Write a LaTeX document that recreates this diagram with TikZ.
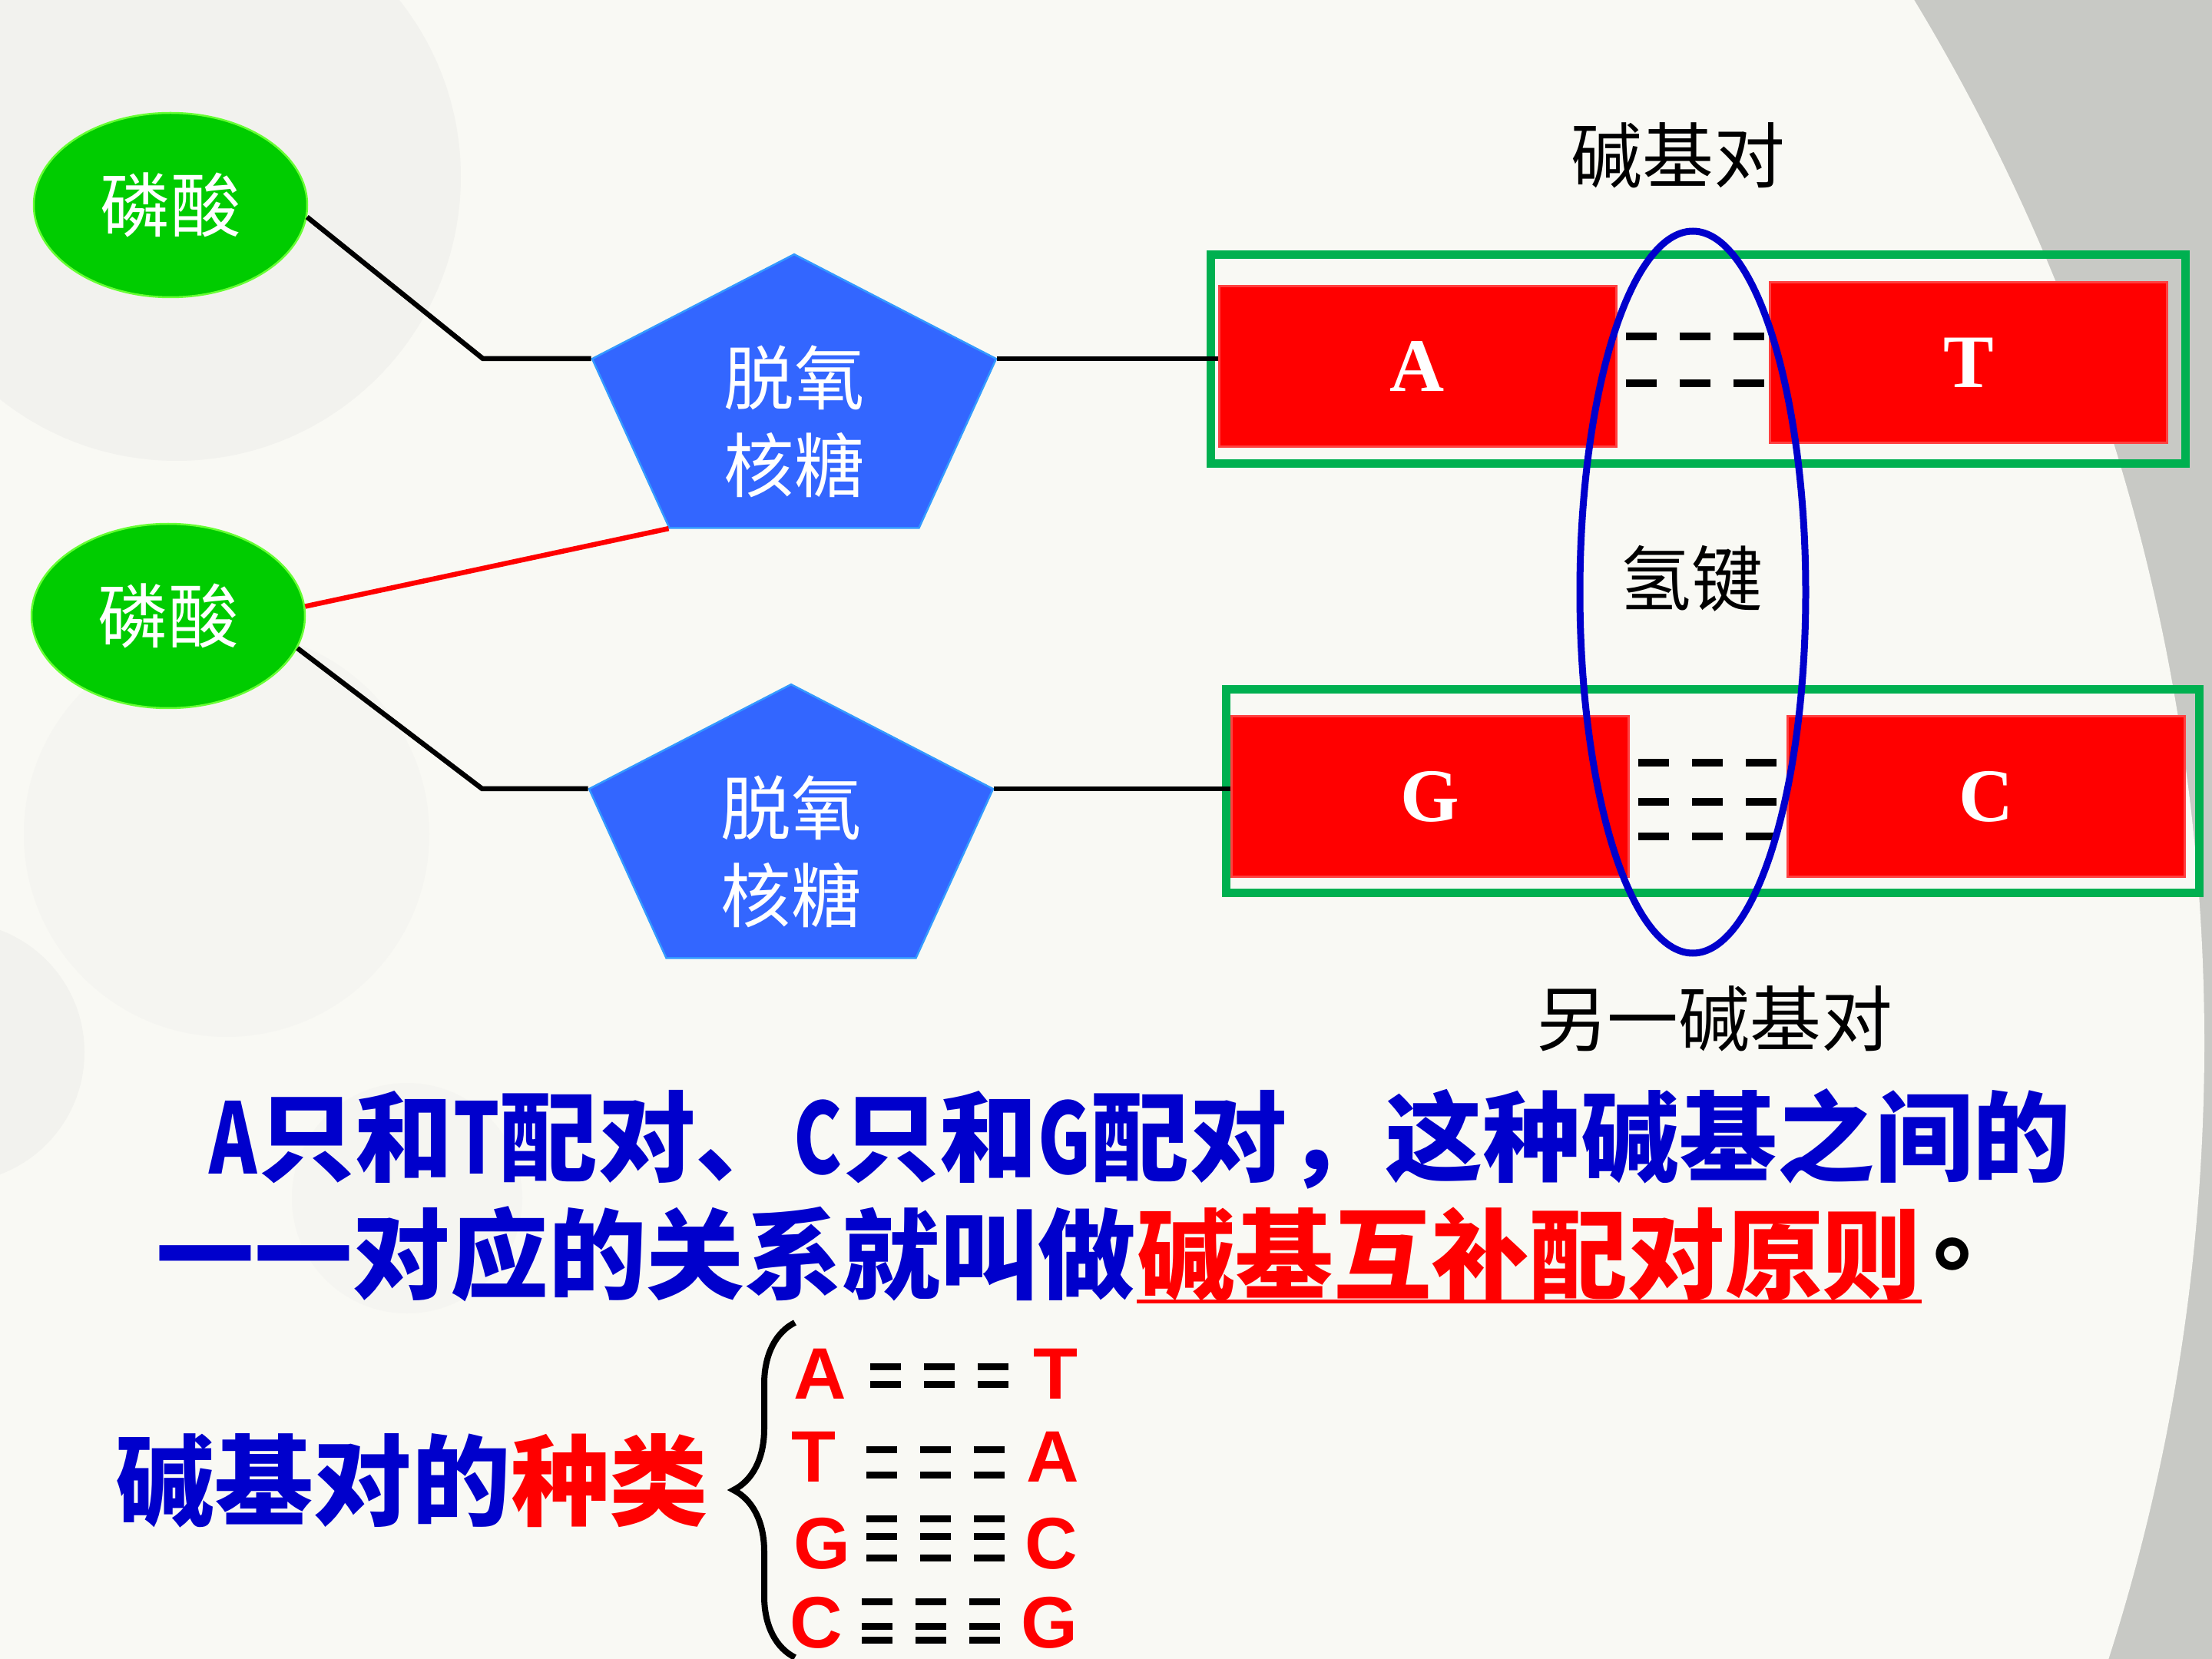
\documentclass[tikz,border=0pt]{standalone}
\usepackage{fontspec}
\usepackage{xcolor}
\usepackage{graphicx}
\usepackage{tikz}
\usetikzlibrary{
  shapes.geometric, positioning, calc, decorations.pathreplacing
}
\setmainfont{Liberation Serif}
\newfontfamily\cjk{Noto Sans CJK SC}
\newfontfamily\arialfont{Liberation Sans}
\newcommand\narrowlat[1]{\scalebox{0.74}[1]{#1}}

\definecolor{bgpaper}{HTML}{F9F9F4}
\definecolor{bggrey}{HTML}{C8C9C5}
\definecolor{bgshade}{HTML}{F2F2EE}
\definecolor{bgsoft}{HTML}{F5F5F1}
\definecolor{acidgreen}{HTML}{00CC00}
\definecolor{acidrim}{HTML}{66FF33}
\definecolor{sugarblue}{HTML}{3366FF}
\definecolor{sugarrim}{HTML}{3399FF}
\definecolor{baserim}{HTML}{FF4040}
\definecolor{pairgreen}{HTML}{00B050}
\definecolor{bondblue}{HTML}{0000CC}
\definecolor{textblue}{HTML}{0000CC}

\tikzset{
  acidnode/.style={
    ellipse, draw=acidrim, line width=0.025cm, fill=acidgreen,
    minimum width=3.56cm, minimum height=2.4cm, inner sep=0pt,
    text=white, font=\cjk\fontsize{26}{30}\selectfont
  },
  sugarnode/.style={
    regular polygon, regular polygon sides=5, draw=sugarrim,
    line width=0.025cm, fill=sugarblue, minimum size=5.53cm, inner sep=0pt
  },
  sugartext/.style={
    text=white, align=center, inner sep=0pt,
    font=\cjk\fontsize{26}{32.4}\selectfont
  },
  basebox/.style={
    rectangle, draw=baserim, line width=0.03cm, fill=red,
    minimum width=5.17cm, minimum height=2.09cm, text=white,
    font=\bfseries\fontsize{28}{30}\selectfont
  },
  pairframe/.style={
    rectangle, draw=pairgreen, line width=0.11cm
  },
  bondline/.style={line width=0.065cm, black},
  hbond/.style={line width=0.1cm, black, dash pattern=on 0.4cm off 0.3cm},
  legenddash/.style={line width=0.09cm, black, dash pattern=on 0.4cm off 0.3cm},
  guidelabel/.style={
    inner sep=0pt, font=\cjk\fontsize{26.4}{30}\selectfont
  },
  maintext/.style={
    inner sep=0pt, text=textblue,
    font=\cjk\bfseries\fontsize{36.3}{40}\selectfont
  },
  kindtext/.style={
    inner sep=0pt, text=textblue,
    font=\cjk\bfseries\fontsize{36.6}{40}\selectfont
  },
  legendletter/.style={
    inner sep=0pt, text=red,
    font=\arialfont\bfseries\fontsize{27}{30}\selectfont
  },
}

\begin{document}
\begin{tikzpicture}
  \useasboundingbox (0,0) rectangle (28.8,-21.6);

  % --- Background ---
  \begin{scope}
    \clip (0,0) rectangle (28.8,-21.6);
    \fill[bggrey] (0,0) rectangle (28.8,-21.6);
    \fill[bgpaper] (2.43,-13.58) circle (26.27);
    \fill[bgshade] (2.3,-2.3) circle (3.7);
    \fill[bgsoft] (2.95,-10.86) circle (2.64);
    \fill[bgshade] (-0.6,-13.7) circle (1.7);
    \fill[bgsoft] (5.3,-15.6) circle (1.5);
  \end{scope}

  % --- Phosphates ---
  \node[acidnode] (acid1) at (2.22,-2.67) {磷酸};
  \node[acidnode] (acid2) at (2.19,-8.02) {磷酸};

  % --- Deoxyriboses ---
  \begin{scope}[shift={(10.34,-5.28)}, yscale=0.712]
    \node[sugarnode, transform shape] (sugar1) at (0,0) {};
  \end{scope}
  \begin{scope}[shift={(10.30,-10.88)}, yscale=0.712]
    \node[sugarnode, transform shape] (sugar2) at (0,0) {};
  \end{scope}
  \node[sugartext] (sugar1txt) at ([yshift=-0.21cm]sugar1.center) {脱氧\\核糖};
  \node[sugartext] (sugar2txt) at ([yshift=-0.21cm]sugar2.center) {脱氧\\核糖};

  % --- Base pairs ---
  \node[pairframe, minimum width=12.69cm, minimum height=2.72cm]
    (frame1) at (22.105,-4.675) {};
  \node[pairframe, minimum width=12.67cm, minimum height=2.64cm]
    (frame2) at (22.295,-10.30) {};
  \node[basebox] (baseA) at (18.455,-4.775) {A};
  \node[basebox] (baseT) at (25.63,-4.725) {T};
  \node[basebox] (baseG) at (18.62,-10.37) {G};
  \node[basebox] (baseC) at (25.86,-10.37) {C};

  % --- Backbone ---
  \draw[bondline] (acid1.-5) -- ($(sugar1.corner 2)+(-1.41,0)$) -- (sugar1.corner 2);
  \draw[bondline, red] (acid2.4) -- (sugar1.corner 3);
  \draw[bondline] (acid2.-14) -- ($(sugar2.corner 2)+(-1.38,0)$) -- (sugar2.corner 2);
  \draw[bondline] (sugar1.corner 5) -- (sugar1.corner 5 -| baseA.west);
  \draw[bondline] (sugar2.corner 5) -- (sugar2.corner 5 -| baseG.west);

  % --- Hydrogen bonds ---
  \draw[hbond] ([shift={(0.11,0.39)}]baseA.east) -- ++(1.8,0);
  \draw[hbond] ([shift={(0.11,-0.215)}]baseA.east) -- ++(1.8,0);
  \draw[hbond] ([shift={(0.11,0.44)}]baseG.east) -- ++(1.8,0);
  \draw[hbond] ([shift={(0.11,-0.07)}]baseG.east) -- ++(1.8,0);
  \draw[hbond] ([shift={(0.11,-0.52)}]baseG.east) -- ++(1.8,0);

  \node[ellipse, draw=bondblue, line width=0.09cm, minimum width=2.94cm,
    minimum height=9.4cm] (bondring) at (22.04,-7.71) {};

  % --- Labels ---
  \node[guidelabel] (pairlbl) at (21.85,-2.02) {碱基对};
  \node[guidelabel] (hbondlbl) at (22.02,-7.53) {氢键};
  \node[guidelabel] (otherlbl) at (22.32,-13.26) {另一碱基对};

  % --- Rule text ---
  \node[maintext, anchor=west] (line1) at (2.72,-14.83)
    {\narrowlat{A}只和\narrowlat{T}配对、\narrowlat{C}只和\narrowlat{G}配对，这种碱基之间的};
  \node[maintext, anchor=west] (line2) at (2.03,-16.33) {一一对应的关系就叫做};
  \node[maintext, anchor=west, text=red] (rule) at (line2.east) {碱基互补配对原则};
  \node[maintext, anchor=west, text=black] (stop) at ([xshift=0.15cm]rule.east) {。};
  \draw[red, line width=0.05cm]
    ([yshift=-0.13cm]rule.base west) -- ([yshift=-0.13cm]rule.base east);

  % --- Pair kinds ---
  \node[kindtext, anchor=west] (kinds) at (1.50,-19.28)
    {碱基对的\textcolor{red}{种类}};
  \draw[line width=0.08cm, decorate, decoration={brace, amplitude=0.8cm}]
    (10.35,-21.58) -- (10.35,-17.22);

  \node[legendletter, anchor=west] (pl1) at (10.33,-17.89) {A};
  \node[legendletter, anchor=east] (pr1) at (14.04,-17.89) {T};
  \node[legendletter, anchor=west] (pl2) at (10.30,-18.97) {T};
  \node[legendletter, anchor=east] (pr2) at (14.06,-18.97) {A};
  \node[legendletter, anchor=west] (pl3) at (10.33,-20.10) {G};
  \node[legendletter, anchor=east] (pr3) at (14.04,-20.10) {C};
  \node[legendletter, anchor=west] (pl4) at (10.28,-21.13) {C};
  \node[legendletter, anchor=east] (pr4) at (14.04,-21.13) {G};

  \draw[legenddash] (11.33,-17.79) -- (13.13,-17.79);
  \draw[legenddash] (11.33,-18.02) -- (13.13,-18.02);
  \draw[legenddash] (11.28,-18.87) -- (13.08,-18.87);
  \draw[legenddash] (11.28,-19.20) -- (13.08,-19.20);
  \draw[legenddash] (11.28,-19.77) -- (13.08,-19.77);
  \draw[legenddash] (11.28,-20.00) -- (13.08,-20.00);
  \draw[legenddash] (11.28,-20.28) -- (13.08,-20.28);
  \draw[legenddash] (11.22,-20.85) -- (13.02,-20.85);
  \draw[legenddash] (11.22,-21.17) -- (13.02,-21.17);
  \draw[legenddash] (11.22,-21.35) -- (13.02,-21.35);
\end{tikzpicture}
\end{document}
